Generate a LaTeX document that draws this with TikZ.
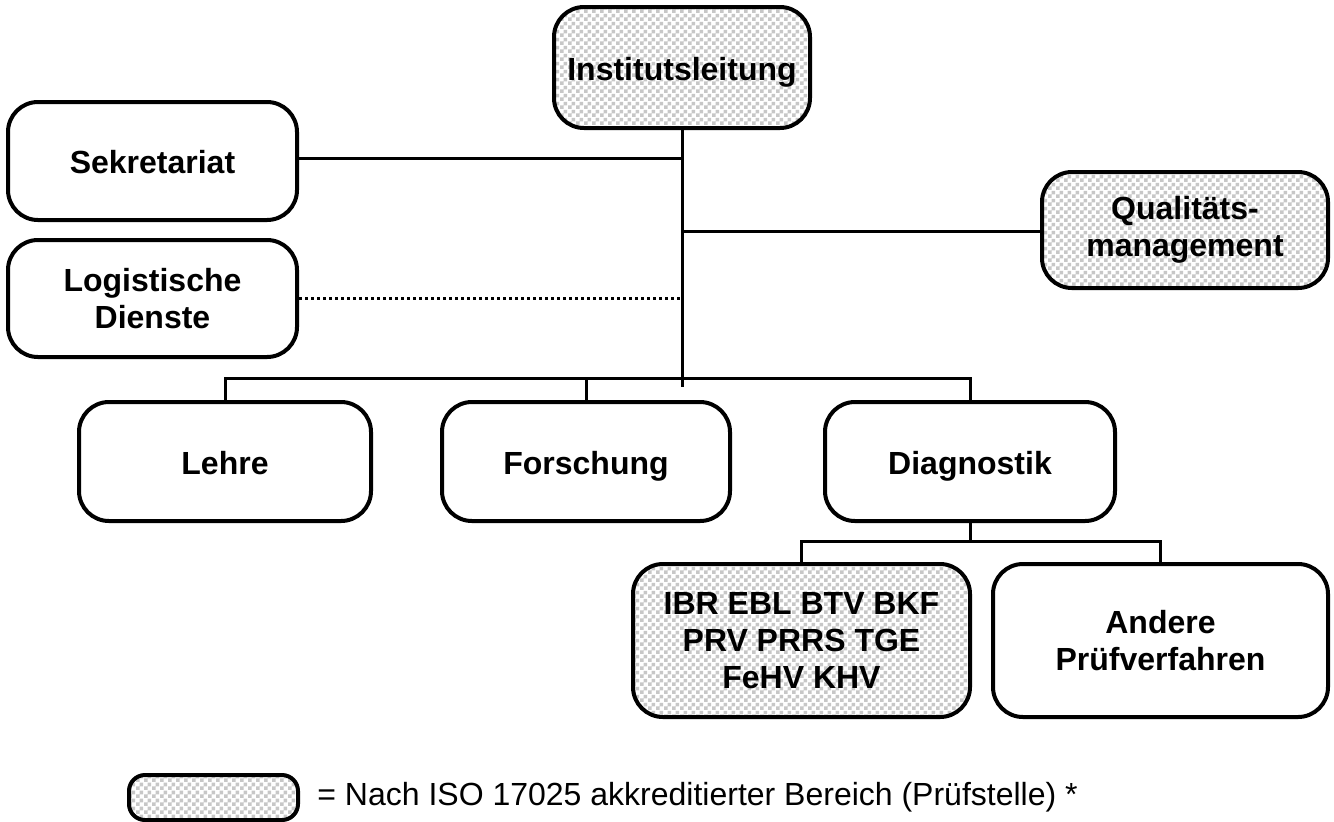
\documentclass[tikz,border=0pt]{standalone}
\usepackage{fontspec}
\setmainfont{Liberation Sans}
\usetikzlibrary{patterns}
\pgfdeclarepatternformonly{mychecker}{\pgfpointorigin}{\pgfqpoint{4pt}{4pt}}{\pgfqpoint{4pt}{4pt}}{%
  \pgfpathrectangle{\pgfpointorigin}{\pgfqpoint{2pt}{2pt}}%
  \pgfpathrectangle{\pgfqpoint{2pt}{2pt}}{\pgfqpoint{2pt}{2pt}}%
  \pgfusepath{fill}}
\tikzset{
  orgbox/.style={draw, line width=2pt, rounded corners=15pt, fill=white, inner sep=0pt,
    align=center, font=\fontsize{16}{18.5}\selectfont\bfseries},
  oneline/.style={text height=15.9pt, text depth=3.4pt},
  accr/.style={preaction={fill=white}, pattern=mychecker, pattern color=black!22},
  conn/.style={line width=1.5pt},
  dotconn/.style={line width=1.5pt, dash pattern=on 1.5pt off 1.5pt},
}
\begin{document}
\begin{tikzpicture}[x=0.5pt,y=-0.5pt]
\useasboundingbox (0,0) rectangle (1334,821);
% nodes
\node[orgbox,accr,oneline,minimum width=128pt,minimum height=60.5pt] (inst) at (682,67.5) {Institutsleitung};
\node[orgbox,oneline,minimum width=144.5pt,minimum height=59pt] (sek) at (152.5,161) {Sekretariat};
\node[orgbox,minimum width=144.5pt,minimum height=58.5pt] (log) at (152.5,298.5) {Logistische\\Dienste};
\node[orgbox,accr,minimum width=143pt,minimum height=58pt] (qm) at (1185,230) {Qualitäts-\\management};
\node[orgbox,oneline,minimum width=146pt,minimum height=59.5pt] (lehre) at (225,461.5) {Lehre};
\node[orgbox,oneline,minimum width=144pt,minimum height=59.5pt] (fors) at (586,461.5) {Forschung};
\node[orgbox,oneline,minimum width=145pt,minimum height=59.5pt] (diag) at (970,461.5) {Diagnostik};
\node[orgbox,accr,minimum width=168.5pt,minimum height=76.5pt] (ibr) at (801.5,640.5) {IBR EBL BTV BKF\\PRV PRRS TGE\\FeHV KHV};
\node[orgbox,minimum width=167.5pt,minimum height=76.5pt] (andere) at (1160.5,640.5) {Andere\\Prüfverfahren};
\node[orgbox,accr,minimum width=84.5pt,minimum height=22.5pt,rounded corners=8pt] (leg) at (213.5,797.5) {};
\node[anchor=west,inner sep=0pt,font=\fontsize{16}{18.5}\selectfont] (legtext) at (317,797) {= Nach ISO 17025 akkreditierter Bereich (Prüfstelle) *};
% junction coordinates
\coordinate (jsek) at (682,158);
\coordinate (jqm) at (682,231);
\coordinate (jlog) at (682,298);
\coordinate (tend) at (682,387);
\coordinate (bus) at (682,378);
\coordinate (sbus) at (970,541);
% connectors
\draw[conn] (inst.south) -- (tend);
\draw[conn] (sek.east |- jsek) -- (jsek);
\draw[conn] (jqm) -- (qm.west |- jqm);
\draw[dotconn] (log.east |- jlog) -- (jlog);
\draw[conn] (lehre.north) -- (lehre.north |- bus) -- (diag.north |- bus) -- (diag.north);
\draw[conn] (fors.north) -- (fors.north |- bus);
\draw[conn] (diag.south) -- (sbus);
\draw[conn] (ibr.north) -- (ibr.north |- sbus) -- (andere.north |- sbus) -- (andere.north);
\end{tikzpicture}
\end{document}
